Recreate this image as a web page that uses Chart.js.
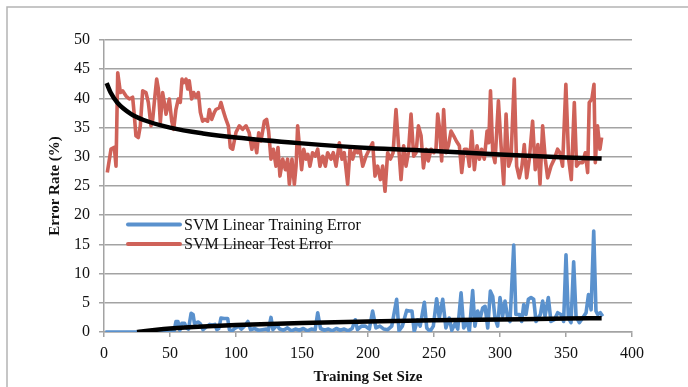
<!DOCTYPE html>
<html>
<head>
<meta charset="utf-8">
<script src="https://cdn.jsdelivr.net/npm/chart.js@4.4.1/dist/chart.umd.min.js"></script>
<style>
  html, body { margin: 0; padding: 0; background: #fff; }
  canvas { display: block; }
</style>
</head>
<body>
<canvas id="errChart" width="688" height="387"></canvas>
<script>
// SVM Linear Test Error (red)
const testSize = [2.5,5.3,7.8,9.1,10.4,12.4,14.1,16.7,19.2,21.7,23,24.2,26,27.5,29.3,31.8,33.6,35.6,36.9,38.1,39.9,41.2,42.7,44.4,45.7,47,49.5,51.3,52.8,54.5,56.3,57.8,59.1,60.4,62.1,63.4,64.6,66.4,67.9,69.7,71.5,73,74.7,76.5,78.5,79.8,81.6,83.6,84.8,87.4,88.6,90.7,92.4,94.2,95.7,97.5,100,102.5,105,107.6,110,112,113.9,115.7,117.2,118.9,121.5,123.2,124.7,126.5,128.3,130.3,131.8,133.3,135.4,137.4,139.1,140.4,142.4,144.2,145.5,146.7,148,149.7,151.3,153,154.5,156,158,160,161.9,163.6,165.7,167.7,169.4,172,173.7,175.8,178.3,180.3,182,184.6,186.4,188.4,190.4,192.2,193.9,196,198.5,201,203.5,205.3,207.3,209.4,211.1,212.9,214.9,217,219,221.2,223,225,227,228.8,230.6,232.6,234.6,236.4,238.2,240.2,242,244,245.7,247.8,249.8,251.5,252.8,254.3,255.8,257.3,259.1,260.9,262.9,264.9,266.9,269.2,271,273,275,276.8,278.6,280.6,282.6,284.4,286.1,288.1,290.2,291.5,292.8,294.5,296.2,298.8,300.8,302.8,304.6,306.5,308.3,310.8,312.6,314.6,316.6,318.4,320.2,322.2,324.7,326.7,328.7,330.3,332.3,334.3,336.1,338.6,341.1,343.6,345.4,347.4,349.9,352,354,356.3,358,360,362.6,364.6,366.4,367.6,369.6,371.2,372.2,373.9,375.7,377];
const testError = [27.3,31.3,31.6,28.4,44.4,41,41.3,40.4,39.9,40.2,37,33.6,33.3,35.3,41.3,41,39.3,35.3,36.4,39.3,43.3,41.6,35.9,41,39.3,37.3,39.9,36.1,34.7,38.1,39.9,39.3,43.3,42.7,43.3,41.6,43,39.9,41,40.2,41,37.6,36.1,36.4,36.1,38.1,36.4,37.6,38.1,38.4,39.3,37.6,36.4,35.3,31.6,31.3,34.2,35.3,34.7,35.3,34.1,31.3,33,30.7,34.1,32.7,36.1,36.4,34.4,29.6,31.3,28.4,31.6,26.7,29.6,27.8,29.6,25.3,29.6,25.3,28.4,35.3,31.9,27.8,31.3,29.6,30.4,28.4,30.7,30.1,31.3,28.4,30.1,28.4,30.7,29.6,30.7,28.4,32.4,29.6,30.7,25.3,31.3,29.6,31.3,30.7,31.3,28.4,30.1,31.3,32.4,26.7,28.4,26.1,28.4,24.1,30.7,29.6,30.7,38.1,32.4,26.1,31.9,28.4,30.7,37.3,30.1,30.7,35.3,33.6,28.1,31.3,29.3,31.3,30.7,31.3,37.3,34.7,29.3,38.1,30.7,31.9,34.4,33.6,32.7,31.9,27.3,31.3,31.3,28.4,34.4,27.8,31.9,29.6,31.3,29.6,34.4,32.4,41.3,30.7,29,39.6,31.9,25.3,37.3,28.4,29.6,43.3,28.4,26.4,28.4,32.1,26.4,29.6,36.1,27.8,32.1,25.3,35.3,29.6,26.4,28.4,29.6,31.3,30.7,28.4,42.4,29.6,26.1,39.3,28.4,29,29,30.7,27.3,39.3,39.9,42.4,29,35.3,31.3,33.3];

// SVM Linear Training Error (blue)
const trainSize = [1,10,20,30,40,50,53,54.5,56,57.5,59,61,62.5,64,66,67.5,68.5,70,71.5,73,75,77,80,82,84,85.5,87,88.6,91,93.7,95,97,99,102,104,106,109,111,114,117,120,123,124.5,126.5,128,131,133,136,139,142,145,148,151,154,157,160,161.9,164,167,170,173,176,179,182,185,188,190.4,192,195,198,201,203.5,206,209,212,215,218,221.7,223.5,226,229.3,231.5,233.3,235,237.6,239.5,242.7,244.5,247,249.5,252,254,256.6,259,261.5,263.5,266,268,270.5,272.5,275,276.8,279.3,281,283,285,286.9,288.7,290.7,292.7,294.5,296.2,298.2,300,302,303.8,305.8,307.6,310.4,312,314.7,316.4,318,319.7,321.5,323.5,325.5,327.3,329,330.6,332.3,334.1,336.6,338.6,341.2,343.7,346.2,348.2,350,351.8,353.8,355.8,357.6,360.1,362.6,365.2,367,369,371,372.7,374,376,377.8];
const trainError = [0,0,0,0,0,0,0.1,1.8,1.8,0.3,1.5,1.5,0.7,0.5,3.2,3.0,1.5,1.6,1.7,1.4,0.4,0.8,1.3,1.2,1.3,0.4,0.6,2.4,2.3,2.3,0.4,0.2,0.6,1.0,0.5,0.9,1.8,0.4,0.6,0.3,0.4,0.5,0.3,2.5,0.4,1.2,0.5,0.3,0.7,0.2,0.5,0.3,0.6,0.2,0.5,0.4,3.3,0.6,0.3,0.5,0.2,0.6,0.3,0.5,0.2,0.6,2.1,0.4,1.0,1.0,0.5,3.6,0.7,1.0,0.5,0.4,1.0,5.6,0.2,1.0,3.7,3.6,3.6,0.1,2.1,1.0,5.1,0.7,0.1,1.0,5.7,2.4,5.6,0.7,2.4,0.3,1.5,0.5,6.7,0.7,1.8,0.1,7.1,1.0,3.6,2.4,4.1,4.4,0.7,7.0,6.1,2.4,1.0,5.9,2.7,5.3,2.4,1.8,14.9,3.0,3.0,1.8,4.7,3.0,5.6,5.9,5.6,1.8,2.4,3.0,5.3,2.7,5.9,1.8,2.1,3.3,3.0,1.8,13.2,2.4,1.6,12.0,2.7,1.6,2.4,3.3,6.4,3.8,17.3,3.6,3.0,3.3,2.7];

// black trend lines
const testTrendSize = [2,5,10,20,30,50,75,100,150,200,250,300,350,377];
const testTrend = [42.6,41,39.3,37.4,36.3,35,34,33.3,32.3,31.5,31,30.4,29.9,29.7];
const trainTrendSize = [25,30,40,50,75,100,150,200,250,300,350,377];
const trainTrend = [0,0.15,0.4,0.6,0.95,1.2,1.55,1.8,2.0,2.15,2.3,2.35];

const seriesNames = ['SVM Linear Training Error', 'SVM Linear Test Error'];
const seriesColors = ['#5a91cd', '#cf6259'];

const pts = (xs, ys) => xs.map((x, i) => ({ x: x, y: ys[i] }));

const gridColor = '#a3a3a3';
const serif = "'Liberation Serif', 'DejaVu Serif', serif";

// frame, axis titles and the in-plot legend
const extras = {
  id: 'extras',
  beforeDraw(chart) {
    const ctx = chart.ctx;
    ctx.save();
    ctx.strokeStyle = '#b4b4b4';
    ctx.lineWidth = 1.5;
    ctx.beginPath();
    ctx.moveTo(7, 400);
    ctx.lineTo(7, 7);
    ctx.lineTo(700, 7);
    ctx.stroke();
    ctx.restore();
  },
  afterDraw(chart) {
    const ctx = chart.ctx;
    const area = chart.chartArea;
    ctx.save();
    ctx.fillStyle = '#111';
    ctx.font = 'bold 15px ' + serif;
    ctx.textAlign = 'center';
    ctx.textBaseline = 'middle';
    ctx.fillText('Training Set Size', (area.left + area.right) / 2, 377);
    ctx.translate(55, (area.top + area.bottom) / 2);
    ctx.rotate(-Math.PI / 2);
    ctx.fillText('Error Rate (%)', 0, 0);
    ctx.restore();

    ctx.save();
    ctx.font = '16px ' + serif;
    ctx.textAlign = 'left';
    ctx.textBaseline = 'middle';
    const rows = [224.5, 244];
    seriesNames.forEach((name, i) => {
      ctx.strokeStyle = seriesColors[i];
      ctx.lineWidth = 4;
      ctx.lineCap = 'round';
      ctx.beginPath();
      ctx.moveTo(128, rows[i]);
      ctx.lineTo(180, rows[i]);
      ctx.stroke();
      ctx.fillStyle = '#111';
      ctx.fillText(name, 184, rows[i] + 1);
    });
    ctx.restore();
  }
};

new Chart(document.getElementById('errChart'), {
  type: 'line',
  data: {
    datasets: [
      {
        label: 'Test trend',
        data: pts(testTrendSize, testTrend),
        borderColor: '#000',
        borderWidth: 4.5,
        pointRadius: 0,
        cubicInterpolationMode: 'monotone',
        order: 0
      },
      {
        label: 'Train trend',
        data: pts(trainTrendSize, trainTrend),
        borderColor: '#000',
        borderWidth: 4.5,
        pointRadius: 0,
        cubicInterpolationMode: 'monotone',
        order: 0
      },
      {
        label: seriesNames[1],
        data: pts(testSize, testError),
        borderColor: seriesColors[1],
        borderWidth: 3.6,
        borderJoinStyle: 'round',
        pointRadius: 0,
        tension: 0,
        order: 1
      },
      {
        label: seriesNames[0],
        data: pts(trainSize, trainError),
        borderColor: seriesColors[0],
        borderWidth: 3.6,
        borderJoinStyle: 'round',
        pointRadius: 0,
        tension: 0,
        order: 2
      }
    ]
  },
  options: {
    responsive: false,
    animation: false,
    devicePixelRatio: 1,
    layout: { padding: { top: 40, right: 56, left: 0, bottom: 0 } },
    plugins: {
      legend: { display: false },
      tooltip: { enabled: false }
    },
    scales: {
      x: {
        type: 'linear',
        min: 0,
        max: 400,
        ticks: {
          stepSize: 50,
          color: '#111',
          padding: 7,
          font: { family: serif, size: 16 }
        },
        grid: { drawOnChartArea: false, drawTicks: true, tickLength: 5, color: gridColor, lineWidth: 1.5 },
        border: { display: true, color: gridColor, width: 1.5 },
        afterFit(scale) { scale.height = 55; }
      },
      y: {
        min: 0,
        max: 50,
        ticks: {
          stepSize: 5,
          color: '#111',
          padding: 9,
          font: { family: serif, size: 16 }
        },
        grid: { color: gridColor, lineWidth: 1.5, tickLength: 5 },
        border: { display: true, color: gridColor, width: 1.5 },
        afterFit(scale) { scale.width = 104; }
      }
    }
  },
  plugins: [extras]
});
</script>
</body>
</html>
